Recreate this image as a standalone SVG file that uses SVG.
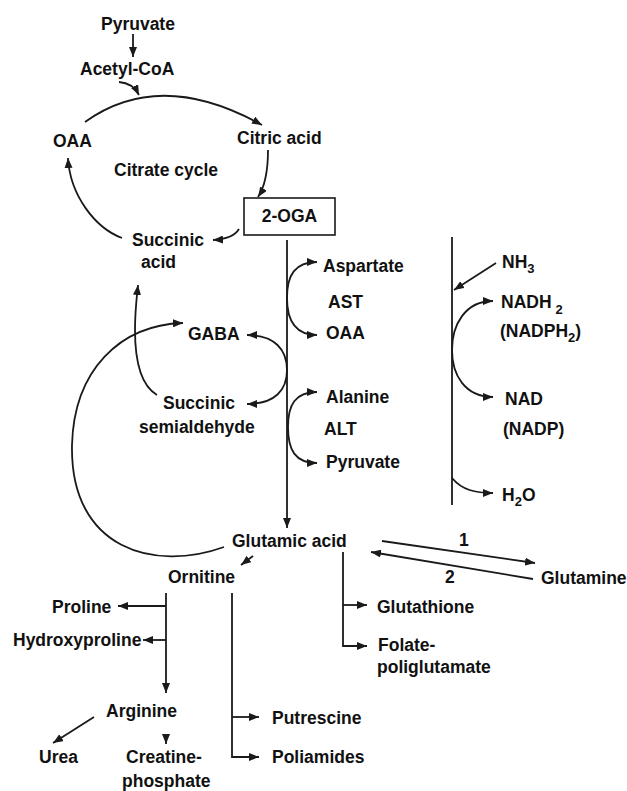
<svg xmlns="http://www.w3.org/2000/svg" width="627" height="791" viewBox="0 0 627 791">
<defs>
<marker id="ah" viewBox="0 0 10 8" refX="10" refY="4" markerWidth="10" markerHeight="8" markerUnits="userSpaceOnUse" orient="auto-start-reverse">
<path d="M0,0 L10,4 L0,8 z" fill="#1a1a1a"/>
</marker>
</defs>
<style>
text{font-family:"Liberation Sans",Arial,sans-serif;font-weight:bold;font-size:17.5px;fill:#111}
.ln{fill:none;stroke:#1a1a1a;stroke-width:1.8}
.ae{marker-end:url(#ah)}
.ab{marker-start:url(#ah);marker-end:url(#ah)}
.sub{font-size:13px}
</style>
<rect width="627" height="791" fill="#fff"/>
<g id="connectors">
<path class="ln ae" d="M133,34 L133,57"/>
<path class="ln ae" d="M119,82 Q133,83 139,95"/>
<path class="ln ae" d="M85,122 Q160,68 262,125"/>
<path class="ln ae" d="M268,150 Q268,182 258,197"/>
<path class="ln ae" d="M239,229 Q233,239 213,240"/>
<path class="ln ae" d="M122,238 C95,228 70,195 68,158"/>
<path class="ln ae" d="M287,240 L287,528"/>
<path class="ln ab" d="M317,262 C295,262 287,275 287,298 C287,320 295,335 317,335"/>
<path class="ln ab" d="M317,392 C295,392 288,405 288,427 C288,450 295,463 317,463"/>
<path class="ln ab" d="M247,335 C275,335 287,350 287,370 C287,390 275,404 247,404"/>
<path class="ln ae" d="M157,395 C140,385 135,360 135,330 C135,310 137,295 138,285"/>
<path class="ln ae" d="M224,547 C155,572 70,550 72,445 C74,370 120,325 183,323"/>
<path class="ln ae" d="M253,556 L241,565"/>
<path class="ln ae" d="M166,593 L166,693"/>
<path class="ln ae" d="M166,606 L118,606"/>
<path class="ln ae" d="M166,640 L143,640"/>
<path class="ln ae" d="M94,717 L53,743"/>
<path class="ln ae" d="M166,735 L166,744"/>
<path class="ln ae" d="M232,593 L232,757 L259,757"/>
<path class="ln ae" d="M232,717 L259,717"/>
<path class="ln" d="M452,237 L452,505"/>
<path class="ln ae" d="M496,263 L454,290"/>
<path class="ln ab" d="M493,301 C465,301 452,325 452,350 C452,375 465,397 493,397"/>
<path class="ln ae" d="M452,478 C462,490 475,493 493,493"/>
<path class="ln ae" d="M343,552 L343,646 L367,646"/>
<path class="ln ae" d="M343,605 L367,605"/>
<path class="ln ae" d="M382,541 L535,563"/>
<path class="ln ae" d="M533,579 L371,552"/>
</g>
<g id="pyruvate1"><text x="101" y="30">Pyruvate</text></g>
<g id="acetylcoa"><text x="80" y="75">Acetyl-CoA</text></g>
<g id="oaa1"><text x="53" y="147">OAA</text></g>
<g id="citric"><text x="237" y="144">Citric acid</text></g>
<g id="cycle"><text x="114" y="176">Citrate cycle</text></g>
<g id="oga"><rect x="244" y="198" width="91" height="37" fill="#fff" stroke="#1a1a1a" stroke-width="1.6"/><text x="289.5" y="222" text-anchor="middle">2-OGA</text></g>
<g id="succinic"><text x="132" y="246">Succinic</text><text x="141" y="268">acid</text></g>
<g id="aspartate"><text x="323" y="272">Aspartate</text></g>
<g id="ast"><text x="328" y="308">AST</text></g>
<g id="oaa2"><text x="326" y="339">OAA</text></g>
<g id="gaba"><text x="188" y="340">GABA</text></g>
<g id="alanine"><text x="326" y="403">Alanine</text></g>
<g id="alt"><text x="324" y="435">ALT</text></g>
<g id="pyruvate2"><text x="326" y="468">Pyruvate</text></g>
<g id="ssa"><text x="163" y="409">Succinic</text><text x="139" y="433">semialdehyde</text></g>
<g id="nh3"><text x="502" y="268">NH<tspan class="sub" dy="5">3</tspan></text></g>
<g id="nadh2"><text x="501" y="308">NADH<tspan class="sub" dx="4" dy="6">2</tspan></text><text x="500" y="337">(NADPH<tspan class="sub" dy="5">2</tspan><tspan dy="-5">)</tspan></text></g>
<g id="nad"><text x="505" y="405">NAD</text><text x="503" y="435">(NADP)</text></g>
<g id="h2o"><text x="502" y="501">H<tspan class="sub" dy="5">2</tspan><tspan dy="-5">O</tspan></text></g>
<g id="glutamic"><text x="232" y="547">Glutamic acid</text></g>
<g id="r1"><text x="459" y="546">1</text></g>
<g id="r2"><text x="445" y="583">2</text></g>
<g id="glutamine"><text x="541" y="584">Glutamine</text></g>
<g id="ornitine"><text x="168" y="583">Ornitine</text></g>
<g id="proline"><text x="52" y="613">Proline</text></g>
<g id="hydroxyproline"><text x="13" y="646">Hydroxyproline</text></g>
<g id="glutathione"><text x="377" y="613">Glutathione</text></g>
<g id="folate"><text x="378" y="651">Folate-</text><text x="377" y="673">poliglutamate</text></g>
<g id="arginine"><text x="106" y="717">Arginine</text></g>
<g id="putrescine"><text x="272" y="724">Putrescine</text></g>
<g id="poliamides"><text x="272" y="763">Poliamides</text></g>
<g id="urea"><text x="39" y="763">Urea</text></g>
<g id="creatine"><text x="126" y="763">Creatine-</text><text x="122" y="787">phosphate</text></g>
</svg>
